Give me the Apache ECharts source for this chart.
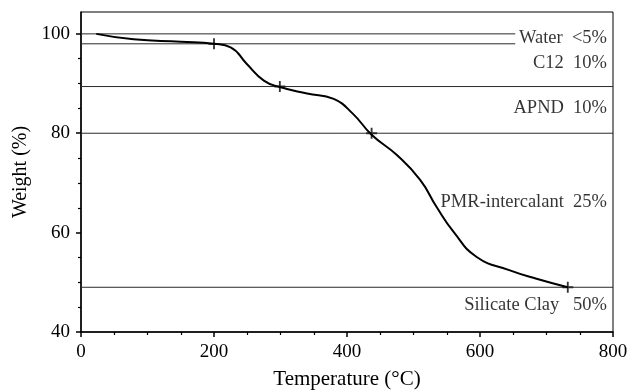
<!DOCTYPE html>
<html>
<head>
<meta charset="utf-8">
<script src="https://cdn.jsdelivr.net/npm/echarts@6/dist/echarts.min.js"></script>
<style>html,body{margin:0;padding:0;background:#fff}#c{width:630px;height:390px}</style>
</head>
<body>
<div id="c"></div>
<script>
// TGA curve
var tempC = [23, 79, 150, 200, 225, 249, 275, 299, 340, 380, 409, 437, 475, 510, 535, 560, 595, 645, 685, 732];
var weightPct = [100, 98.9, 98.4, 98.0, 97.3, 94.0, 90.6, 89.3, 88.0, 86.9, 83.9, 79.7, 75.6, 70.6, 65.1, 60.2, 55.1, 52.4, 50.7, 49.0];
// step markers
var markerT = [200, 299, 437, 732];
var markerW = [98.0, 89.4, 80.0, 49.0];
// horizontal level lines
var levelW = [100, 98, 89.4, 80, 49];
var levelEndT = [653, 653, 800, 800, 800];
// annotations
var annoText = ['Water  <5%', 'C12  10%', 'APND  10%', 'PMR-intercalant  25%', 'Silicate Clay   50%'];
var annoW = [99.1, 94.1, 85.0, 66.2, 45.4];
var annoT = [791, 791, 791, 791, 791];
// ticks
var xMajor = [0, 200, 400, 600, 800];
var xMinor = [50, 100, 150, 250, 300, 350, 450, 500, 550, 650, 700, 750];
var yMajor = [40, 60, 80, 100];
var yMinor = [45, 50, 55, 65, 70, 75, 85, 90, 95];

var FONT = 'Liberation Serif';
var series = [];
levelW.forEach(function (w, i) {
  series.push({
    type: 'line', xAxisIndex: 0, yAxisIndex: 0, symbol: 'none', silent: true,
    lineStyle: { color: '#2a2a2a', width: 1 },
    data: [[0, w], [levelEndT[i], w]]
  });
});
series.push({
  type: 'line', xAxisIndex: 0, yAxisIndex: 0, symbol: 'none', smooth: true,
  lineStyle: { color: '#000', width: 2 },
  data: tempC.map(function (t, i) { return [t, weightPct[i]]; })
});
series.push({
  type: 'scatter', xAxisIndex: 0, yAxisIndex: 0,
  symbol: 'path://M-1,-6h2v5h5v2h-5v5h-2v-5h-5v-2h5z', symbolSize: 11,
  itemStyle: { color: '#000' },
  data: markerT.map(function (t, i) { return [t, markerW[i]]; })
});
series.push({
  type: 'scatter', xAxisIndex: 0, yAxisIndex: 0, symbolSize: 0,
  label: {
    show: true, position: [0, 0], align: 'right', verticalAlign: 'middle',
    fontFamily: FONT, fontSize: 18.5, color: '#000',
    formatter: function (p) { return annoText[p.dataIndex]; }
  },
  data: annoT.map(function (t, i) { return [t, annoW[i]]; })
});

var option = {
  animation: false,
  backgroundColor: '#fff',
  grid: { left: 81, right: 17, top: 12, bottom: 58, show: true, borderColor: '#000', borderWidth: 1, outerBoundsMode: 'none', containLabel: false },
  xAxis: [{
    type: 'value', min: 0, max: 800, interval: 200,
    name: 'Temperature (\u00B0C)', nameLocation: 'middle', nameGap: 37,
    nameTextStyle: { fontFamily: FONT, fontSize: 21, color: '#000' },
    axisLine: { show: true, lineStyle: { color: '#000', width: 1.5 } },
    axisTick: { show: true, length: 5, lineStyle: { color: '#000', width: 1.5 }, customValues: xMajor },
    axisLabel: { margin: 11, fontFamily: FONT, fontSize: 19, color: '#000', customValues: xMajor },
    splitLine: { show: false }
  }, {
    type: 'value', min: 0, max: 800, position: 'bottom',
    axisLine: { show: false },
    axisTick: { show: true, length: 3, lineStyle: { color: '#000', width: 1.2 }, customValues: xMinor },
    axisLabel: { show: false },
    splitLine: { show: false }
  }],
  yAxis: [{
    type: 'value', min: 40, max: 104.4, interval: 20,
    name: 'Weight (%)', nameLocation: 'middle', nameGap: 45,
    nameTextStyle: { fontFamily: FONT, fontSize: 20, color: '#000' },
    axisLine: { show: true, lineStyle: { color: '#000', width: 1.5 } },
    axisTick: { show: true, length: 5, lineStyle: { color: '#000', width: 1.5 }, customValues: yMajor },
    axisLabel: { margin: 11, fontFamily: FONT, fontSize: 19, color: '#000', customValues: yMajor },
    splitLine: { show: false }
  }, {
    type: 'value', min: 40, max: 104.4, position: 'left',
    axisLine: { show: false },
    axisTick: { show: true, length: 3, lineStyle: { color: '#000', width: 1.2 }, customValues: yMinor },
    axisLabel: { show: false },
    splitLine: { show: false }
  }],
  series: series
};
var chart = echarts.init(document.getElementById('c'), null, { renderer: 'canvas' });
chart.setOption(option);
</script>
</body>
</html>
